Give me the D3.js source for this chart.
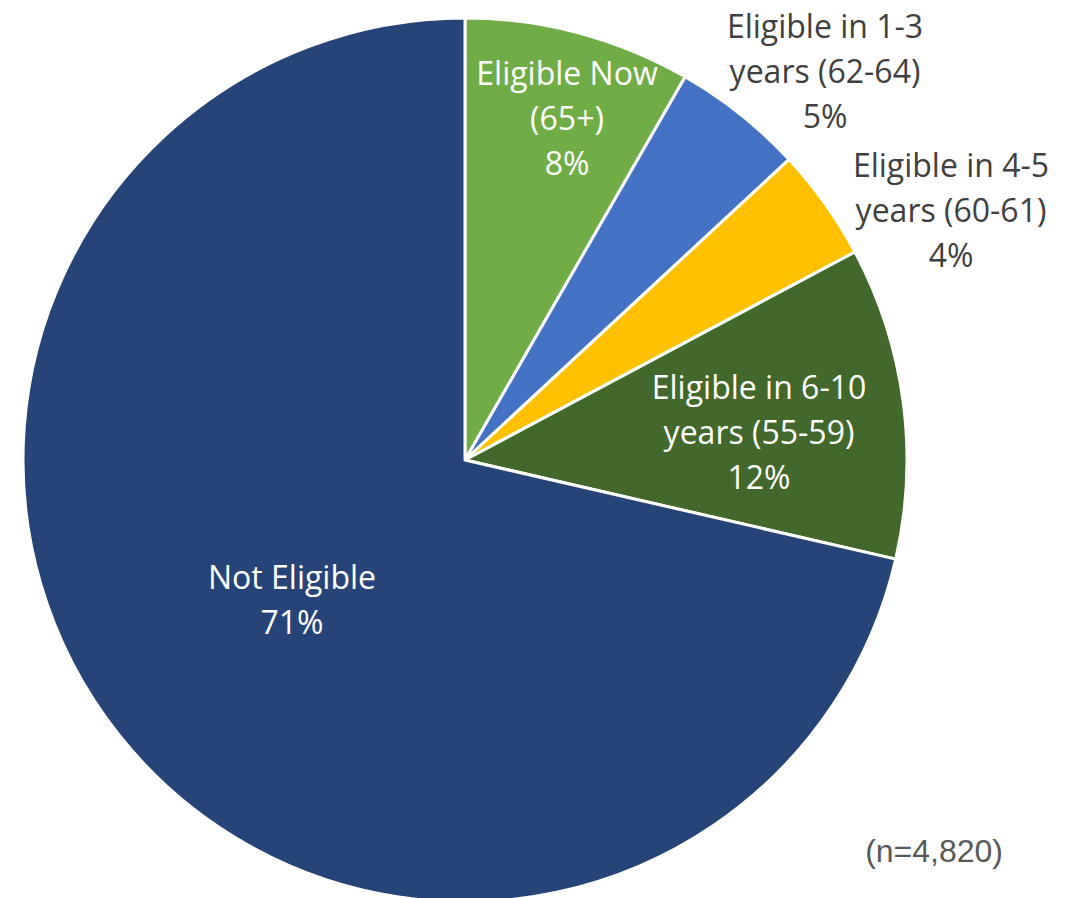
<!DOCTYPE html>
<html>
<head>
<meta charset="utf-8">
<script src="https://cdn.jsdelivr.net/npm/d3@7"></script>
<style>
  body { margin: 0; background: #fff; }
  svg { display: block; }
</style>
</head>
<body>
<script>
// Data
const categories = ['Eligible Now (65+)', 'Eligible in 1-3 years (62-64)', 'Eligible in 4-5 years (60-61)', 'Eligible in 6-10 years (55-59)', 'Not Eligible'];
const shares = [8.3, 4.8, 4.1, 11.4, 71.4];
const percentLabels = ['8%', '5%', '4%', '12%', '71%'];
const labelLines = [
  ['Eligible Now', '(65+)'],
  ['Eligible in 1-3', 'years (62-64)'],
  ['Eligible in 4-5', 'years (60-61)'],
  ['Eligible in 6-10', 'years (55-59)'],
  ['Not Eligible']
];
const colors = ['#70AD47', '#4472C4', '#FFC000', '#43682B', '#264478'];

const width = 1081;
const height = 898;
const cx = 465, cy = 460, radius = 442;

// hand placed label centres (first line), like Excel's best fit
const labelPos = [[567, 74], [825, 27], [951, 166], [759, 388], [292, 578]];
const labelFill = ['#fff', '#404040', '#404040', '#fff', '#fff'];

const svg = d3.select('body').append('svg')
  .attr('width', width)
  .attr('height', height);

const pie = d3.pie().sort(null).value(d => d);
const arc = d3.arc().innerRadius(0).outerRadius(radius);

const g = svg.append('g').attr('transform', `translate(${cx},${cy})`);

g.selectAll('path')
  .data(pie(shares))
  .enter().append('path')
  .attr('d', arc)
  .attr('fill', (d, i) => colors[i])
  .attr('stroke', '#fff')
  .attr('stroke-width', 3)
  .attr('stroke-linejoin', 'round');

// Labels
const lineH = 45;
const labels = svg.selectAll('text.lbl')
  .data(categories)
  .enter().append('text')
  .attr('class', 'lbl')
  .attr('text-anchor', 'middle')
  .attr('font-family', 'Open Sans, sans-serif')
  .attr('font-size', 32)
  .attr('fill', (d, i) => labelFill[i]);

labels.each(function(d, i) {
  const t = d3.select(this);
  const lines = labelLines[i].concat([percentLabels[i]]);
  lines.forEach((s, j) => {
    t.append('tspan')
      .attr('x', labelPos[i][0])
      .attr('y', labelPos[i][1] + j * lineH)
      .attr('dy', '0.35em')
      .text(s);
  });
});

svg.append('text')
  .attr('x', 1003)
  .attr('y', 862)
  .attr('text-anchor', 'end')
  .attr('font-family', 'Liberation Sans, Arial, sans-serif')
  .attr('font-size', 32)
  .attr('fill', '#595959')
  .text('(n=4,820)');
</script>
</body>
</html>
